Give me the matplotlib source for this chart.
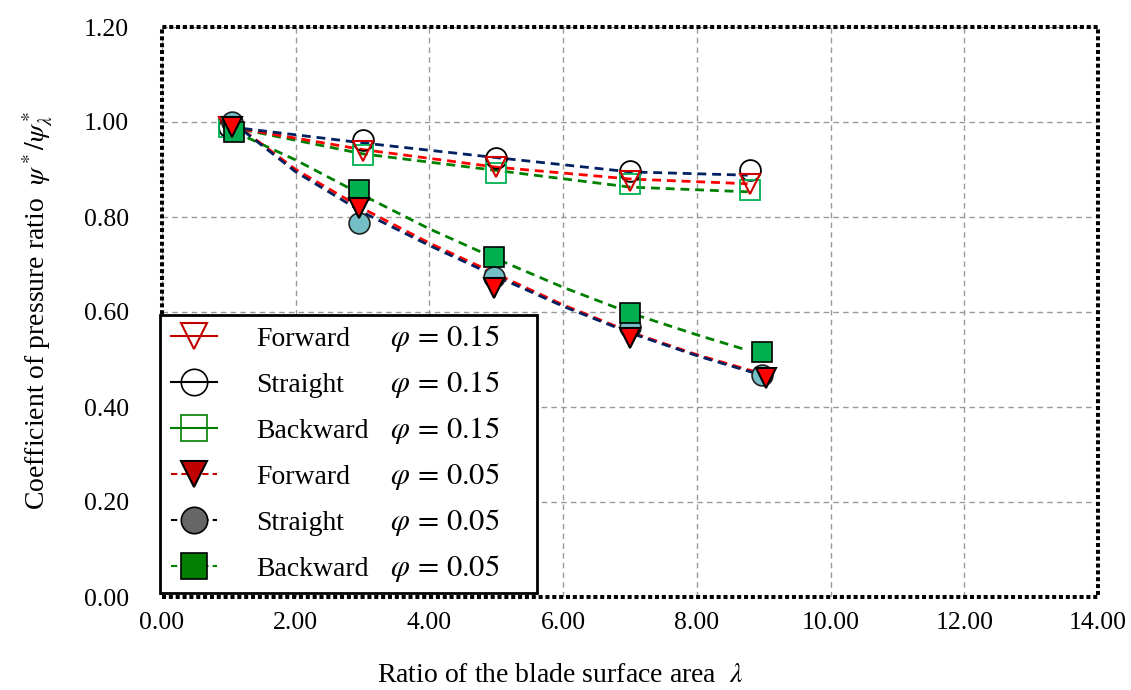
import numpy as np
import matplotlib
matplotlib.use("Agg")
import matplotlib.pyplot as plt
from matplotlib.lines import Line2D
from matplotlib.patches import Rectangle

plt.rcParams['font.family'] = ['Liberation Serif', 'DejaVu Serif']
plt.rcParams['mathtext.fontset'] = 'stix'

# measured points, phi = 0.15 (open markers)
lam_015 = [1.0, 3.0, 5.0, 7.0, 8.8]
fwd_015 = [0.99, 0.94, 0.905, 0.875, 0.87]
str_015 = [0.99, 0.962, 0.924, 0.897, 0.899]
bwd_015 = [0.99, 0.93, 0.893, 0.87, 0.857]

# measured points, phi = 0.05 (filled markers)
lam_fwd_005 = [1.05, 2.95, 4.97, 7.0, 9.03]
fwd_005 = [0.99, 0.82, 0.65, 0.545, 0.461]
lam_str_005 = [1.05, 2.95, 4.97, 7.0, 8.97]
str_005 = [1.0, 0.787, 0.674, 0.568, 0.467]
lam_bwd_005 = [1.08, 2.95, 4.97, 7.0, 8.97]
bwd_005 = [0.98, 0.857, 0.716, 0.598, 0.516]

# trend lines
lam_trend_015 = [1.0, 3.0, 5.0, 7.0, 8.76]
trend_str_015 = [0.99, 0.956, 0.925, 0.895, 0.888]
trend_fwd_015 = [0.99, 0.942, 0.905, 0.88, 0.87]
trend_bwd_015 = [0.99, 0.933, 0.898, 0.863, 0.853]

lam_trend_005 = [1.05, 2.0, 3.0, 4.0, 5.0, 6.0, 7.0, 8.0, 8.9]
trend_str_005 = [1.0, 0.895, 0.81, 0.74, 0.675, 0.612, 0.556, 0.508, 0.47]
trend_fwd_005 = [1.0, 0.9, 0.818, 0.745, 0.68, 0.615, 0.558, 0.51, 0.473]
lam_trend_bwd_005 = [1.08, 2.0, 3.0, 4.0, 5.0, 6.0, 7.0, 8.0, 8.7]
trend_bwd_005 = [0.98, 0.92, 0.846, 0.775, 0.712, 0.652, 0.598, 0.552, 0.522]

names = ['Forward', 'Straight', 'Backward', 'Forward', 'Straight', 'Backward']
phis = ['0.15', '0.15', '0.15', '0.05', '0.05', '0.05']

xticks = np.arange(0, 14.01, 2)
yticks = np.arange(0, 1.201, 0.2)

fig = plt.figure(figsize=(11.31, 6.9), dpi=100)
ax = fig.add_axes([162/1131, 1-597/690, 936/1131, 570/690])

dash = (0, (3.2, 2.1))
lw = 2.0
ax.plot(lam_trend_015, trend_bwd_015, ls=dash, color='#008000', lw=lw, zorder=2)
ax.plot(lam_trend_015, trend_fwd_015, ls=dash, color='#ff0000', lw=lw, zorder=2)
ax.plot(lam_trend_015, trend_str_015, ls=dash, color='#002060', lw=lw, zorder=2)
ax.plot(lam_trend_bwd_005, trend_bwd_005, ls=dash, color='#008000', lw=lw, zorder=2)
ax.plot(lam_trend_005, trend_fwd_005, ls=dash, color='#ff0000', lw=lw, zorder=2)
ax.plot(lam_trend_005, trend_str_005, ls=dash, color='#002060', lw=lw, zorder=2)

ms = 15
ax.plot(lam_015, str_015, ls='none', marker='o', ms=ms, mfc='none', mec='black', mew=1.3, zorder=3)
ax.plot(lam_015, bwd_015, ls='none', marker='s', ms=ms, mfc='none', mec='#00b050', mew=1.3, zorder=3)
ax.plot(lam_015, fwd_015, ls='none', marker='v', ms=ms, mfc='none', mec='#d00000', mew=1.5, zorder=3)

ax.plot(lam_str_005, str_005, ls='none', marker='o', ms=ms, mfc='#74bec6', mec='#222222', mew=1.2, zorder=4)
ax.plot(lam_fwd_005, fwd_005, ls='none', marker='v', ms=ms, mfc='#ff0000', mec='black', mew=1.5, zorder=5)
ax.plot(lam_bwd_005, bwd_005, ls='none', marker='s', ms=ms, mfc='#00b050', mec='black', mew=1.2, zorder=4)

ax.set_xlim(0, 14)
ax.set_ylim(0, 1.2)
ax.set_xticks(xticks)
ax.set_yticks(yticks)
ax.set_xticklabels(['%.2f' % v for v in xticks])
ax.set_yticklabels(['%.2f' % v for v in yticks])
ax.tick_params(axis='both', length=0, labelsize=18.5)
ax.tick_params(axis='x', pad=11)
ax.tick_params(axis='y', pad=24)
ax.grid(True, color='#999999', lw=1.0, ls=(0, (4, 3)))
ax.set_axisbelow(True)

# dotted frame
for sp in ax.spines.values():
    sp.set_visible(False)
ax.add_patch(Rectangle((0, 0), 1, 1, transform=ax.transAxes, fill=False, ec='black',
                       lw=2.9, ls=(0, (1.0, 0.7)), clip_on=False, zorder=6))

# legend
lms = 19
handles = [
    Line2D([], [], color='#c00000', lw=1.5, marker='v', ms=lms, mfc='none', mec='#c00000', mew=1.5),
    Line2D([], [], color='black', lw=1.5, marker='o', ms=lms, mfc='none', mec='black', mew=1.2),
    Line2D([], [], color='#008000', lw=1.5, marker='s', ms=lms, mfc='none', mec='#008000', mew=1.2),
    Line2D([], [], color='#c00000', lw=1.5, ls=(0, (3, 2)), marker='v', ms=lms, mfc='#c00000', mec='black', mew=1.5),
    Line2D([], [], color='black', lw=1.5, ls=(0, (3, 2)), marker='o', ms=lms, mfc='#666666', mec='black', mew=1.2),
    Line2D([], [], color='#008000', lw=1.5, ls=(0, (3, 2)), marker='s', ms=lms, mfc='#007f00', mec='black', mew=1.2),
]
leg = ax.legend(handles, names, loc='lower left', bbox_to_anchor=(-0.002, 0.007, 0.403, 0.49),
                mode='expand', borderaxespad=0, fontsize=20, handlelength=1.65, handletextpad=1.4,
                labelspacing=0.74, borderpad=0.4, fancybox=False, framealpha=1, edgecolor='black')
leg.get_frame().set_linewidth(2)
leg.set_zorder(10)

fig.canvas.draw()
inv = fig.transFigure.inverted()
for t, p in zip(leg.get_texts(), phis):
    xd, yd = t.get_transform().transform(t.get_position())
    xf, yf = inv.transform((xd, yd))
    fig.text(390/1131, yf, r'$\varphi \,=\, %s$' % p, fontsize=22, va='baseline', ha='left', zorder=20)

fig.text(38/1131, 1-310/690, r'Coefficient of pressure ratio  $\psi^*/\psi^*_\lambda$',
         rotation=90, fontsize=20, ha='center', va='center')
fig.text(560/1131, 1-675/690, r'Ratio of the blade surface area  $\lambda$',
         fontsize=20, ha='center', va='center')

fig.savefig('out.png', dpi=100)
